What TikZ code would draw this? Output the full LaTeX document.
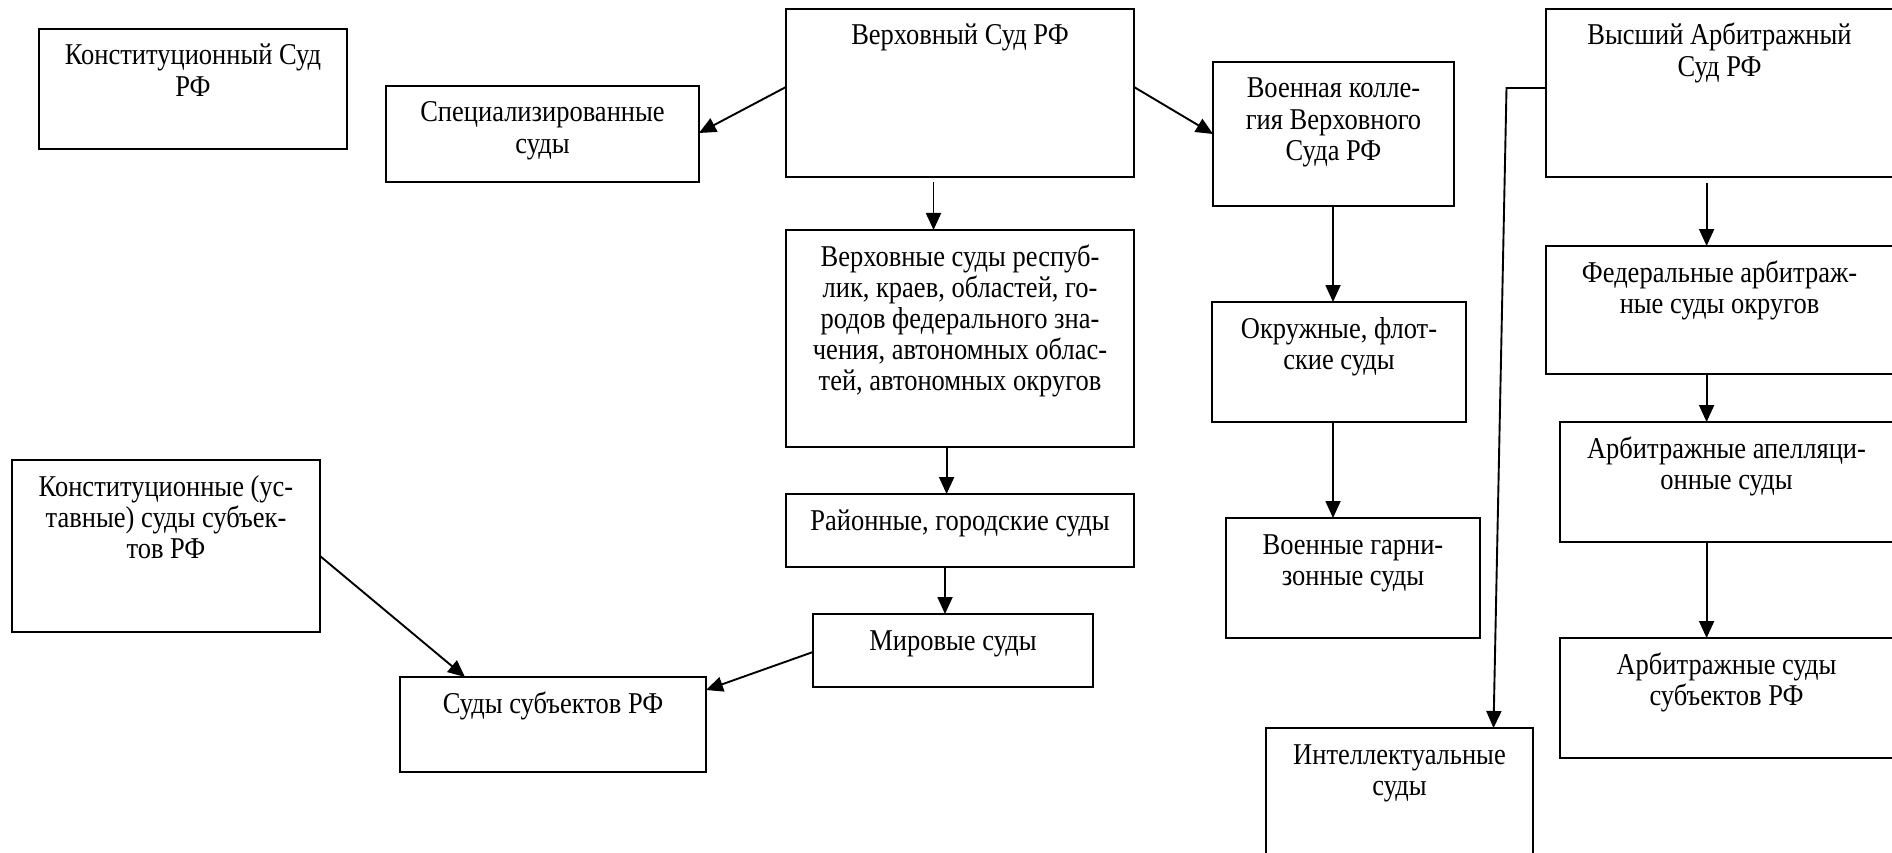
\documentclass[tikz,border=0pt]{standalone}
\usepackage{graphicx}
\usepackage{fontspec}
\setmainfont{Liberation Serif}
\usetikzlibrary{arrows.meta}
\newcommand{\courttext}[2]{\scalebox{1}[1.14]{\parbox[t]{#1}{\centering #2}}}
\tikzset{
  court/.style={draw, line width=1.8pt, inner sep=0pt, outer sep=0pt, anchor=north west,
    text height=36pt, font=\fontsize{26.5}{27.2}\selectfont},
  arr/.style={line width=1.9pt, -{Triangle[length=17pt,width=15pt]}},
}
\begin{document}
\begin{tikzpicture}[x=1pt,y=-1pt]
\fill[white] (0,0) rectangle (1892,853);
\useasboundingbox (0,0) rectangle (1892,853);

\node[court, text depth=84pt]  (konst) at (39,29)   {\courttext{308pt}{Конституционный Суд\\РФ}};
\node[court, text depth=60pt]  (spec)  at (386,86)  {\courttext{313pt}{Специализированные\\суды}};
\node[court, text depth=132pt] (verh)  at (786,9)   {\courttext{348pt}{Верховный Суд РФ}};
\node[court, text depth=108pt] (voenk) at (1213,62) {\courttext{241pt}{Военная колле-\\гия Верховного\\Суда РФ}};
\node[court, text depth=132pt] (vas)   at (1546,9)  {\courttext{347pt}{Высший Арбитражный\\Суд РФ}};
\node[court, text depth=181pt] (resp)  at (786,230) {\courttext{348pt}{Верховные суды респуб-\\лик, краев, областей, го-\\родов федерального зна-\\чения, автономных облас-\\тей, автономных округов}};
\node[court, text depth=84pt]  (okr)   at (1212,302) {\courttext{254pt}{Окружные, флот-\\ские суды}};
\node[court, text depth=92pt]  (fed)   at (1546,246) {\courttext{347pt}{Федеральные арбитраж-\\ные суды округов}};
\node[court, text depth=84pt]  (apel)  at (1560,422) {\courttext{333pt}{Арбитражные апелляци-\\онные суды}};
\node[court, text depth=37pt]  (raion) at (786,494) {\courttext{348pt}{Районные, городские суды}};
\node[court, text depth=84pt]  (garn)  at (1226,518) {\courttext{254pt}{Военные гарни-\\зонные суды}};
\node[court, text depth=37pt]  (mir)   at (813,614) {\courttext{280pt}{Мировые суды}};
\node[court, text depth=136pt] (ksub)  at (12,460) {\courttext{308pt}{Конституционные (ус-\\тавные) суды субъек-\\тов РФ}};
\node[court, text depth=59pt]  (subj)  at (400,677) {\courttext{306pt}{Суды субъектов РФ}};
\node[court, text depth=84pt]  (arb)   at (1560,638) {\courttext{333pt}{Арбитражные суды\\субъектов РФ}};
\node[court, text depth=104pt] (intel) at (1266,728) {\courttext{267pt}{Интеллектуальные\\суды}};

\draw[arr] ([xshift=147.5pt,yshift=-5pt]verh.south west) -- ([xshift=147.5pt]resp.north west);
\draw[arr] ([xshift=160.6pt]resp.south west) -- ([xshift=160.6pt]raion.north west);
\draw[arr] ([xshift=159pt]raion.south west) -- ([xshift=132pt]mir.north west);
\draw[arr] ([yshift=-38pt]mir.north west) -- ([yshift=-13pt]subj.north east);
\draw[arr] ([yshift=-96pt]ksub.north east) -- ([xshift=65pt]subj.north west);
\draw[arr] ([yshift=-78pt]verh.north west) -- ([yshift=-47pt]spec.north east);
\draw[arr] ([yshift=-78pt]verh.north east) -- ([yshift=-72pt]voenk.north west);
\draw[arr] ([xshift=120pt]voenk.south west) -- ([xshift=121pt]okr.north west);
\draw[arr] ([xshift=121pt]okr.south west) -- ([xshift=107pt]garn.north west);
\draw[arr] ([xshift=160.6pt,yshift=-6pt]vas.south west) -- ([xshift=160.6pt]fed.north west);
\draw[arr] ([xshift=160.6pt]fed.south west) -- ([xshift=146.6pt]apel.north west);
\draw[arr] ([xshift=146.6pt]apel.south west) -- ([xshift=146.6pt]arb.north west);
\draw[arr] ([yshift=-79pt]vas.north west) -- ++(-39.5,0) -- ([xshift=227.5pt]intel.north west);
\end{tikzpicture}
\end{document}
